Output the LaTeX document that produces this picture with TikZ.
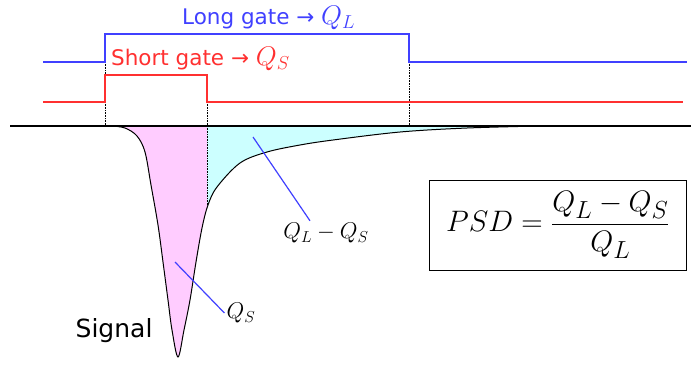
\documentclass[tikz,border=0pt]{standalone}
\usepackage{amsmath}
\usepackage{fontspec}
\setmainfont{DejaVu Sans}
\usetikzlibrary{positioning,calc}

\definecolor{gateblue}{RGB}{64,64,255}
\definecolor{gatered}{RGB}{255,48,48}
\definecolor{shortfill}{RGB}{255,204,255}
\definecolor{tailfill}{RGB}{204,255,255}

\begin{document}
\begin{tikzpicture}[
  x=1pt, y=-1pt,
  gate/.style={line width=1.4pt},
  guide/.style={densely dotted, line width=0.6pt},
  lead/.style={draw=gateblue, line width=1.2pt},
  qlab/.style={fill=white, inner sep=2pt, font=\fontsize{20.74}{25}\selectfont},
  gatelab/.style={inner sep=0pt, anchor=west, font=\fontsize{21.5}{26}\selectfont},
]
\useasboundingbox (0,0) rectangle (691,365);

% gate levels and edges
\coordinate (on) at (105,0);
\coordinate (shoff) at (207,0);
\coordinate (lgoff) at (409,0);

% signal shape
\def\sigpath{plot[smooth, tension=0.55] coordinates {(112,126) (125,128) (137,136) (145,152) (151,185) (158,225) (163,262) (168,300) (172,330) (178,357) (184,330) (190,300) (196,262) (202,228) (208,205) (217,187) (240,163) (267,152) (300,145) (333,140) (400,132) (467,128) (540,126)}}

% filled integrals
\begin{scope}
  \clip (0,120) rectangle (207,365);
  \fill[shortfill] \sigpath -- cycle;
\end{scope}
\begin{scope}
  \clip (207,120) rectangle (691,365);
  \fill[tailfill] \sigpath -- cycle;
\end{scope}

% gate dividers
\draw[guide] (on |- 0,62) -- (on |- 0,127);
\draw[guide] (shoff |- 0,102) -- (shoff |- 0,205);
\draw[guide] (lgoff |- 0,62) -- (lgoff |- 0,127);

% baseline and signal
\draw[line width=1.8pt] (10,126) -- (691,126);
\draw[line width=1pt] \sigpath;

% gates
\draw[gate, gateblue] (43,62) -| (on |- 0,34) -| (lgoff |- 0,62) -- (687,62);
\draw[gate, gatered] (43,102) -| (on |- 0,75) -| (shoff |- 0,102) -- (683,102);

\node[gatelab, text=gateblue] (lglab) at (182,18) {Long gate \textrightarrow{} \scalebox{1.3}{$Q_L$}};
\node[gatelab, text=gatered] (shlab) at (111,59) {Short gate \textrightarrow{} \scalebox{1.3}{$Q_S$}};

% charge labels
\node[qlab] (qdiff) at (326,233) {\scalebox{1.1}{$Q_L-Q_S$}};
\node[qlab] (qshort) at (241,313) {\scalebox{1.1}{$Q_S$}};
\coordinate (tailpt) at (253,137);
\coordinate (shortpt) at (175,262);
\draw[lead] (tailpt) -- (qdiff.north -| 310,0);
\draw[lead] (shortpt) -- (qshort.west);

\node[font=\fontsize{25}{30}\selectfont, anchor=east] (siglab) at (156,331) {Signal};

% PSD formula
\node[draw, line width=0.8pt, minimum width=257pt, minimum height=90pt,
  font=\fontsize{24.88}{30}\selectfont] (psd) at (558,225)
  {\scalebox{1.19}{$PSD=\dfrac{Q_L-Q_S}{Q_L}$}};
\end{tikzpicture}
\end{document}
